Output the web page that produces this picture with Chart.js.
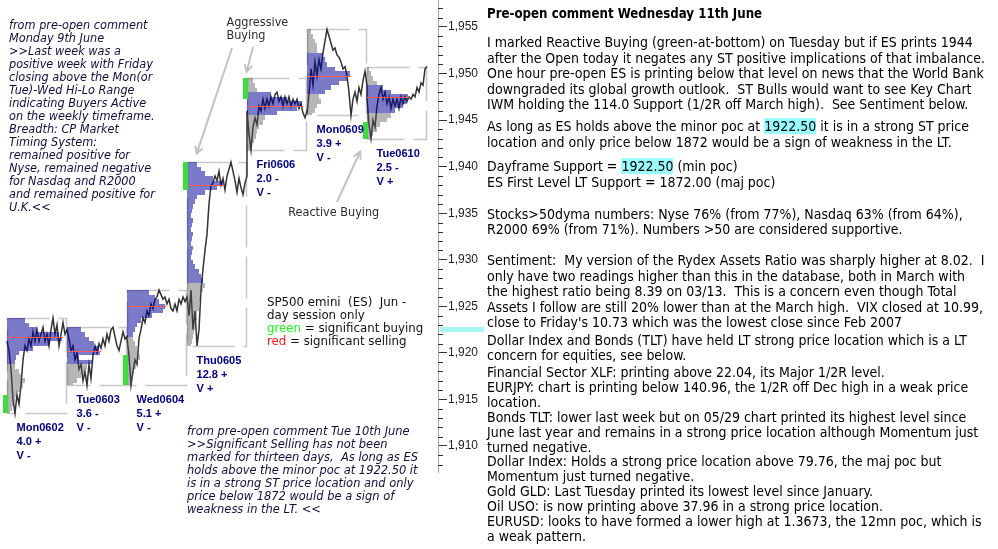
<!DOCTYPE html>
<html>
<head>
<meta charset="utf-8">
<script src="https://cdn.jsdelivr.net/npm/chart.js@4.4.1/dist/chart.umd.min.js"></script>
<style>
  html, body { margin:0; padding:0; background:#fff; }
  #root { position:relative; width:998px; height:549px; overflow:hidden; background:#fff; }
  #chartBox { position:absolute; left:0; top:0; width:490px; height:549px; }
  .ln { position:absolute; white-space:pre; margin:0; padding:0; }
  .hl { background:#99ffff; }
</style>
</head>
<body>
<div id="root">
  <div id="chartBox"><canvas id="c" width="490" height="549"></canvas></div>
  <div id="txt"></div>
</div>
<script>
// ================= DATA =================
const DAY_NAMES  = ['Mon0602', 'Tue0603', 'Wed0604', 'Thu0605', 'Fri0606', 'Mon0609', 'Tue0610'];
const DAY_RANGE  = ['4.0 +', '3.6 -', '5.1 +', '12.8 +', '2.0 -', '3.9 +', '2.5 -'];
const DAY_VOLUME = ['V -', 'V -', 'V -', 'V +', 'V -', 'V -', 'V +'];

const DAY_HIGH = [1923.75, 1922.75, 1926.75, 1940.5, 1949.5, 1954.75, 1950.75];
const DAY_LOW  = [1913.5, 1916.5, 1916.5, 1920.75, 1941.75, 1945.5, 1943.0];

// price path of each day session (evenly spaced samples)
const PRICE_MON0602 = [1921.25, 1920.25, 1918.25, 1915.0, 1913.5, 1915.5, 1914.5, 1916.5, 1919.25, 1920.75, 1920.25, 1921.5, 1920.75, 1922.25, 1921.25, 1922.5, 1921.25, 1922.0, 1922.75, 1921.25, 1922.0, 1920.75, 1922.5, 1923.75, 1922.0, 1923.0, 1920.75, 1922.0, 1923.25, 1922.0, 1922.5];
const PRICE_TUE0603 = [1922.5, 1921.5, 1920.25, 1920.75, 1919.25, 1920.0, 1918.25, 1918.75, 1917.0, 1918.0, 1916.5, 1918.75, 1917.25, 1919.75, 1920.75, 1920.0, 1921.0, 1920.5, 1921.5, 1920.75, 1922.0, 1921.25, 1922.5, 1922.75, 1921.75, 1920.75, 1920.25, 1921.25, 1922.25, 1921.5, 1921.75];
const PRICE_WED0604 = [1921.5, 1919.75, 1916.5, 1918.0, 1919.25, 1918.75, 1921.5, 1922.5, 1923.75, 1923.25, 1924.5, 1924.0, 1925.25, 1924.75, 1925.75, 1926.0, 1926.75, 1926.25, 1925.75, 1926.0, 1925.25, 1925.75, 1924.75, 1924.5, 1925.25, 1924.5, 1925.75, 1925.25, 1926.0, 1925.5, 1926.0];
const PRICE_THU0605 = [1926.0, 1924.0, 1926.75, 1922.5, 1924.5, 1920.75, 1922.5, 1926.75, 1929.0, 1931.0, 1932.75, 1936.0, 1938.0, 1938.25, 1939.0, 1938.5, 1939.5, 1938.0, 1938.75, 1937.5, 1939.0, 1939.75, 1940.5, 1939.5, 1938.5, 1937.25, 1938.75, 1937.75, 1937.0, 1938.25, 1939.0];
const PRICE_FRI0606 = [1946.0, 1943.5, 1941.75, 1944.25, 1945.25, 1944.5, 1946.5, 1946.0, 1947.25, 1946.25, 1947.25, 1946.5, 1947.5, 1946.75, 1947.75, 1948.0, 1947.0, 1947.5, 1946.5, 1947.5, 1946.75, 1947.5, 1946.5, 1947.25, 1946.75, 1947.25, 1946.25, 1946.75, 1945.75, 1945.25, 1946.0];
const PRICE_MON0609 = [1945.75, 1947.75, 1950.5, 1948.75, 1951.25, 1949.75, 1951.5, 1950.5, 1952.25, 1953.5, 1954.75, 1954.0, 1953.25, 1952.5, 1952.75, 1952.0, 1951.75, 1951.25, 1950.5, 1950.75, 1949.75, 1948.0, 1945.5, 1947.25, 1948.0, 1947.0, 1948.5, 1947.75, 1949.25, 1950.25, 1948.75];
const PRICE_TUE0610 = [1947.25, 1944.5, 1943.0, 1945.0, 1944.25, 1946.5, 1947.75, 1948.5, 1947.25, 1948.0, 1946.75, 1947.5, 1946.25, 1947.25, 1946.5, 1947.25, 1946.25, 1947.5, 1946.75, 1947.5, 1947.0, 1947.5, 1947.25, 1947.75, 1947.5, 1948.5, 1948.0, 1949.0, 1948.75, 1950.5, 1950.75];

// volume profile of each day: activity per half-point row, from the day high downwards
const PROFILE_MON0602 = [18, 22, 30, 52, 55, 42, 26, 12, 9, 8, 8, 12, 15, 18, 16, 14, 10, 8, 6, 5, 3];
const PROFILE_TUE0603 = [14, 18, 22, 27, 32, 33, 12, 25, 20, 18, 14, 10, 6];
const PROFILE_WED0604 = [22, 28, 32, 38, 36, 25, 14, 10, 8, 6, 6, 8, 10, 12, 13, 11, 9, 7, 6, 5, 4];
const PROFILE_THU0605 = [10, 14, 18, 26, 36, 30, 18, 10, 8, 6, 5, 4, 6, 5, 4, 6, 5, 4, 6, 5, 4, 6, 8, 12, 14, 16, 18, 16, 14, 13, 12, 12, 10, 10, 9, 8, 7, 6, 5, 4];
const PROFILE_FRI0606 = [6, 8, 10, 24, 40, 55, 50, 30, 18, 16, 12, 10, 9, 7, 5, 3];
const PROFILE_MON0609 = [4, 6, 8, 10, 10, 16, 18, 20, 28, 43, 40, 32, 24, 18, 12, 14, 10, 8, 5];
const PROFILE_TUE0610 = [2, 4, 6, 10, 16, 24, 41, 40, 36, 28, 24, 20, 13, 10, 6, 4];

const VA_HIGH = [1923.75, 1922.75, 1926.75, 1940.5, 1948.0, 1952.25, 1948.75];
const VA_LOW  = [1918.75, 1918.75, 1921.75, 1927.5, 1945.5, 1947.75, 1946.0];
const POC     = [1921.75, 1920.25, 1925.0, 1938.0, 1946.5, 1949.75, 1947.5];

// significant buying (green) marks
const BUY_DAY  = [0, 2, 3, 4, 6];
const BUY_LOW  = [1913.5, 1916.5, 1937.5, 1947.25, 1943.0];
const BUY_HIGH = [1915.5, 1919.75, 1940.5, 1949.5, 1944.75];

const MINOR_POC = 1922.5;

const Y_MIN = 1907.2, Y_MAX = 1957.9;
const Y_LABEL_STEP = 5;

// ================= DERIVED =================
const SESSION_LEN = 60;   // time units per day session
const ROW = 0.5;          // profile row height (points)
const PRICES = [PRICE_MON0602, PRICE_TUE0603, PRICE_WED0604, PRICE_THU0605, PRICE_FRI0606, PRICE_MON0609, PRICE_TUE0610];
const PROFILES = [PROFILE_MON0602, PROFILE_TUE0603, PROFILE_WED0604, PROFILE_THU0605, PROFILE_FRI0606, PROFILE_MON0609, PROFILE_TUE0610];
const points = [];
PRICES.forEach((arr, d) => {
  const step = SESSION_LEN / (arr.length - 1);
  arr.forEach((p, i) => points.push({ x: d * SESSION_LEN + i * step, y: p }));
});

// ================= STYLE =================
const FAMILY = '"DejaVu Sans Condensed", "DejaVu Sans", Verdana, sans-serif';
const LABEL_FAMILY = '"Liberation Sans", Arial, sans-serif';
const BLUE = 'rgba(0,0,150,0.52)';
const GREY = 'rgba(80,80,80,0.42)';
const mctx = document.createElement('canvas').getContext('2d');
function fit(text, width, font, fam) {
  mctx.font = font + ' 100px ' + (fam || FAMILY);
  return 100 * width / mctx.measureText(text).width;
}
const LABEL_SIZE = fit('Mon0602', 47.3, 'normal 700', LABEL_FAMILY);

function arrow(c, x1, y1, x2, y2) {
  c.beginPath(); c.moveTo(x1, y1); c.lineTo(x2, y2); c.stroke();
  const a = Math.atan2(y2 - y1, x2 - x1), L = 8, s = 0.5;
  c.beginPath();
  c.moveTo(x2 - L * Math.cos(a - s), y2 - L * Math.sin(a - s));
  c.lineTo(x2, y2);
  c.lineTo(x2 - L * Math.cos(a + s), y2 - L * Math.sin(a + s));
  c.stroke();
}

const profilePlugin = {
  id: 'marketProfile',
  beforeDatasetsDraw(ch) {
    const c = ch.ctx, X = ch.scales.x, Y = ch.scales.y;
    c.save();
    c.strokeStyle = '#c8c8c8'; c.lineWidth = 1.6; c.setLineDash([42, 9]);
    DAY_NAMES.forEach((_, d) => {
      const x0 = Math.round(X.getPixelForValue(d * SESSION_LEN)), x1 = Math.round(X.getPixelForValue((d + 1) * SESSION_LEN));
      const y0 = Math.round(Y.getPixelForValue(DAY_HIGH[d])), y1 = Math.round(Y.getPixelForValue(DAY_LOW[d]));
      c.strokeRect(x0 + 0.5, y0 + 0.5, x1 - x0 - 1, y1 - y0);
    });
    c.restore();
  },
  afterDatasetsDraw(ch) {
    const c = ch.ctx, X = ch.scales.x, Y = ch.scales.y;
    c.save();
    PROFILES.forEach((prof, d) => {
      const base = d * SESSION_LEN;
      const x0 = Math.round(X.getPixelForValue(base));
      prof.forEach((w, i) => {
        const top = DAY_HIGH[d] - i * ROW;
        const bot = Math.max(DAY_LOW[d], top - ROW);
        if (bot >= top) return;
        const mid = (top + bot) / 2;
        c.fillStyle = (mid <= VA_HIGH[d] && mid >= VA_LOW[d]) ? BLUE : GREY;
        const yT = Math.round(Y.getPixelForValue(top)), yB = Math.round(Y.getPixelForValue(bot));
        const xR = Math.round(X.getPixelForValue(base + w));
        c.fillRect(x0, yT, xR - x0, yB - yT);
      });
      const maxW = Math.max(...prof);
      const yP = Math.round(Y.getPixelForValue(POC[d])) + 0.5;
      c.strokeStyle = '#ff5a5a'; c.lineWidth = 1;
      c.beginPath(); c.moveTo(x0, yP); c.lineTo(Math.round(X.getPixelForValue(base + maxW + 1)), yP); c.stroke();
    });
    c.fillStyle = '#3ddc3d';
    BUY_DAY.forEach((d, k) => {
      const x0 = Math.round(X.getPixelForValue(d * SESSION_LEN));
      const yT = Math.round(Y.getPixelForValue(BUY_HIGH[k])), yB = Math.round(Y.getPixelForValue(BUY_LOW[k]));
      c.fillRect(x0 - 4, yT, 5, yB - yT);
    });
    c.restore();
  },
  afterDraw(ch) {
    const c = ch.ctx, X = ch.scales.x, Y = ch.scales.y, area = ch.chartArea;
    c.save();
    // minor ticks
    c.strokeStyle = '#333'; c.lineWidth = 1;
    for (let v = Math.ceil(Y_MIN); v <= Math.floor(Y_MAX); v++) {
      if (v % Y_LABEL_STEP === 0) continue;
      const y = Math.round(Y.getPixelForValue(v)) + 0.5;
      c.beginPath(); c.moveTo(area.right, y); c.lineTo(area.right + 5, y); c.stroke();
    }
    // minor poc marker
    const yc = Y.getPixelForValue(MINOR_POC);
    c.fillStyle = '#a6f6f8';
    c.fillRect(area.right + 2, Math.round(yc - 2.5), 44, 5);
    // day labels
    c.fillStyle = '#00007a';
    c.font = 'bold ' + LABEL_SIZE + 'px ' + LABEL_FAMILY;
    c.textBaseline = 'middle'; c.textAlign = 'left';
    DAY_NAMES.forEach((name, d) => {
      const x = X.getPixelForValue(d * SESSION_LEN + 9.5);
      const y = Y.getPixelForValue(DAY_LOW[d]) + 15;
      c.fillText(name, x, y);
      c.fillText(DAY_RANGE[d], x, y + 14);
      c.fillText(DAY_VOLUME[d], x, y + 28);
    });
    // annotation arrows (pointing at the marked imbalances)
    c.strokeStyle = '#c2c2c2'; c.lineWidth = 2;
    arrow(c, 232, 48, X.getPixelForValue(3 * SESSION_LEN + 9.7), Y.getPixelForValue(DAY_HIGH[3] + 0.9));
    arrow(c, 253, 47, X.getPixelForValue(4 * SESSION_LEN - 0.3), Y.getPixelForValue(DAY_HIGH[4] + 0.7));
    arrow(c, 337, 202, X.getPixelForValue(6 * SESSION_LEN - 7), Y.getPixelForValue(DAY_LOW[6] - 1.4));
    c.restore();
  }
};

new Chart(document.getElementById('c'), {
  type: 'line',
  data: { datasets: [{ data: points, borderColor: '#333333', borderWidth: 1.5, pointRadius: 0, tension: 0, fill: false }] },
  options: {
    responsive: false, animation: false, events: [],
    layout: { padding: { left: 0, right: 0, top: 0, bottom: 77 } },
    plugins: { legend: { display: false }, tooltip: { enabled: false } },
    scales: {
      x: { type: 'linear', min: -7, max: 7 * SESSION_LEN + 11, display: false },
      y: {
        type: 'linear', position: 'right', min: Y_MIN, max: Y_MAX,
        afterBuildTicks: s => {
          const t = [];
          for (let v = Math.ceil(Y_MIN); v <= Math.floor(Y_MAX); v++) if (v % Y_LABEL_STEP === 0) t.push({ value: v });
          s.ticks = t;
        },
        afterFit: s => { s.width = 52; s.paddingTop = 0; s.paddingBottom = 0; },
        border: { display: true, color: '#a9a593', width: 1 },
        grid: { drawOnChartArea: false, drawTicks: true, tickLength: 9, tickColor: '#333', tickWidth: 1 },
        ticks: { padding: 1, color: '#1e1e1e', autoSkip: false,
          font: { family: '"Liberation Sans", Arial, sans-serif', size: 12 },
          callback: v => v.toLocaleString('en-US') }
      }
    }
  },
  plugins: [profilePlugin]
});

// ================= TEXT =================
const txtRoot = document.getElementById('txt');
function addText(x, yC, lh, size, font, color, content) {
  const d = document.createElement('div');
  d.className = 'ln';
  d.style.left = x + 'px';
  d.style.top = (yC - lh / 2) + 'px';
  d.style.font = font + ' ' + size + 'px/' + lh + 'px ' + FAMILY;
  d.style.color = color;
  if (Array.isArray(content)) {
    content.forEach(([t, col]) => { const s = document.createElement('span'); s.textContent = t; if (col) s.style.color = col; d.appendChild(s); });
  } else {
    content.split(/(\{[^}]*\})/).forEach(part => {
      if (!part) return;
      if (part[0] === '{') { const s = document.createElement('span'); s.className = 'hl'; s.textContent = part.slice(1, -1); d.appendChild(s); }
      else d.appendChild(document.createTextNode(part));
    });
  }
  txtRoot.appendChild(d);
}

const LEFT_NOTE = ['from pre-open comment', 'Monday 9th June', '>>Last week was a', 'positive week with Friday',
  'closing above the Mon(or', 'Tue)-Wed Hi-Lo Range', 'indicating Buyers Active', 'on the weekly timeframe.',
  'Breadth: CP Market', 'Timing System:', 'remained positive for', 'Nyse, remained negative',
  'for Nasdaq and R2000', 'and remained positive for', 'U.K.<<'];
const BOTTOM_NOTE = ['from pre-open comment Tue 10th June', '>>Significant Selling has not been',
  'marked for thirteen days,  As long as ES', 'holds above the minor poc at 1922.50 it',
  'is in a strong ST price location and only', 'price below 1872 would be a sign of', 'weakness in the LT. <<'];

const noteSize = fit('positive week with Friday', 144, 'italic 400');
LEFT_NOTE.forEach((t, i) => addText(9, 24 + i * 13, 13, noteSize, 'italic 400', '#10103c', t));
const noteSize2 = fit('from pre-open comment Tue 10th June', 222.7, 'italic 400');
BOTTOM_NOTE.forEach((t, i) => addText(187, 430.7 + i * 13, 13, noteSize2, 'italic 400', '#10103c', t));

const annSize = fit('Reactive Buying', 91, 'normal 400');
addText(226.5, 22.7, 12.5, annSize, 'normal 400', '#2e2e2e', 'Aggressive');
addText(226.5, 35.2, 12.5, annSize, 'normal 400', '#2e2e2e', 'Buying');
addText(288.3, 212.7, 12.5, annSize, 'normal 400', '#2e2e2e', 'Reactive Buying');

const legSize = fit('SP500 emini  (ES)  Jun -', 139.4, 'normal 400');
addText(267, 302.7, 12.8, legSize, 'normal 400', '#111', 'SP500 emini  (ES)  Jun -');
addText(267, 315.5, 12.8, legSize, 'normal 400', '#111', 'day session only');
addText(267, 328.3, 12.8, legSize, 'normal 400', '#111', [['green', '#22ee22'], [' = significant buying', null]]);
addText(267, 341.1, 12.8, legSize, 'normal 400', '#111', [['red', '#ff1a1a'], [' = significant selling', null]]);

const RIGHT_TITLE = 'Pre-open comment Wednesday 11th June';
const RIGHT_LINES = [
  [42, 'I marked Reactive Buying (green-at-bottom) on Tuesday but if ES prints 1944'],
  [57.5, 'after the Open today it negates any ST positive implications of that imbalance.'],
  [73, 'One hour pre-open ES is printing below that level on news that the World Bank'],
  [88.5, 'downgraded its global growth outlook.  ST Bulls would want to see Key Chart'],
  [104, 'IWM holding the 114.0 Support (1/2R off March high).  See Sentiment below.'],
  [126, 'As long as ES holds above the minor poc at {1922.50} it is in a strong ST price'],
  [141.5, 'location and only price below 1872 would be a sign of weakness in the LT.'],
  [166, 'Dayframe Support = {1922.50} (min poc)'],
  [181.5, 'ES First Level LT Support = 1872.00 (maj poc)'],
  [213.5, 'Stocks>50dyma numbers: Nyse 76% (from 77%), Nasdaq 63% (from 64%),'],
  [229, 'R2000 69% (from 71%). Numbers >50 are considered supportive.'],
  [260, 'Sentiment:  My version of the Rydex Assets Ratio was sharply higher at 8.02.  I'],
  [275.5, 'only have two readings higher than this in the database, both in March with'],
  [291, 'the highest ratio being 8.39 on 03/13.  This is a concern even though Total'],
  [306.5, 'Assets I follow are still 20% lower than at the March high.  VIX closed at 10.99,'],
  [322, "close to Friday's 10.73 which was the lowest close since Feb 2007"],
  [340, 'Dollar Index and Bonds (TLT) have held LT strong price location which is a LT'],
  [355, 'concern for equities, see below.'],
  [372, 'Financial Sector XLF: printing above 22.04, its Major 1/2R level.'],
  [386.9, 'EURJPY: chart is printing below 140.96, the 1/2R off Dec high in a weak price'],
  [401.8, 'location.'],
  [416.7, 'Bonds TLT: lower last week but on 05/29 chart printed its highest level since'],
  [431.6, 'June last year and remains in a strong price location although Momentum just'],
  [446.5, 'turned negative.'],
  [461.4, 'Dollar Index: Holds a strong price location above 79.76, the maj poc but'],
  [476.3, 'Momentum just turned negative.'],
  [491.2, 'Gold GLD: Last Tuesday printed its lowest level since January.'],
  [506.1, 'Oil USO: is now printing above 37.96 in a strong price location.'],
  [521, 'EURUSD: looks to have formed a lower high at 1.3673, the 12mn poc, which is'],
  [535.9, 'a weak pattern.']
];
const titleSize = fit(RIGHT_TITLE, 275.3, 'normal 700');
addText(487, 14, 16, titleSize, 'normal 700', '#000', RIGHT_TITLE);
const bodySize = fit('I marked Reactive Buying (green-at-bottom) on Tuesday but if ES prints 1944', 486, 'normal 400');
RIGHT_LINES.forEach(([y, t]) => addText(487, y, 16, bodySize, 'normal 400', '#000', t));
</script>
</body>
</html>
